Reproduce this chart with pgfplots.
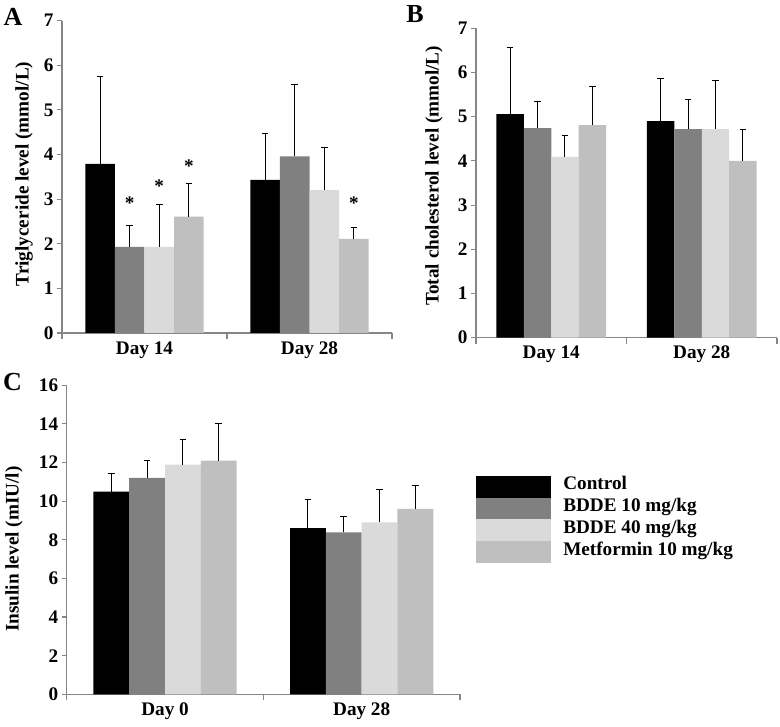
\documentclass[border=0pt]{standalone}
\usepackage{pgfplots}
\pgfplotsset{compat=1.18}
\usepackage{pgfplotstable}
\usepackage{fontspec}
\setmainfont{Liberation Serif}
\definecolor{cA}{HTML}{000000}
\definecolor{cB}{HTML}{808080}
\definecolor{cC}{HTML}{DADADA}
\definecolor{cD}{HTML}{BFBFBF}
\definecolor{axgray}{HTML}{868686}

% Panel A: Triglyceride
\pgfplotstableread{
x y e
0 3.79 1.97
1 3.43 1.04
}\TgCtrl
\pgfplotstableread{
x y e
0 1.93 0.49
1 3.96 1.60
}\TgTen
\pgfplotstableread{
x y e
0 1.93 0.95
1 3.20 0.96
}\TgForty
\pgfplotstableread{
x y e
0 2.61 0.75
1 2.11 0.25
}\TgMet
% Panel B: Total cholesterol
\pgfplotstableread{
x y e
0 5.06 1.50
1 4.90 0.97
}\TcCtrl
\pgfplotstableread{
x y e
0 4.74 0.61
1 4.72 0.66
}\TcTen
\pgfplotstableread{
x y e
0 4.09 0.49
1 4.72 1.09
}\TcForty
\pgfplotstableread{
x y e
0 4.81 0.88
1 4.00 0.72
}\TcMet
% Panel C: Insulin
\pgfplotstableread{
x y e
0 10.49 0.92
1 8.60 1.51
}\InCtrl
\pgfplotstableread{
x y e
0 11.20 0.93
1 8.39 0.84
}\InTen
\pgfplotstableread{
x y e
0 11.89 1.31
1 8.90 1.71
}\InForty
\pgfplotstableread{
x y e
0 12.10 1.93
1 9.60 1.20
}\InMet

\newcommand{\mainfs}{\fontsize{19.2}{21}\selectfont\bfseries}
\newcommand{\labfs}{\fontsize{18.8}{21}\selectfont\bfseries}

\pgfplotsset{
 panel/.style={
  scale only axis, ybar=0pt,
  axis x line*=bottom, axis y line*=left,
  axis line style={axgray, line width=1.1pt},
  xmin=-0.5, xmax=1.5, ymin=0,
  xtick={0,1}, major x tick style={draw=none},
  minor xtick={-0.5,0.5,1.5}, minor x tick style={axgray, line width=1.1pt},
  tick align=outside, major tick length=5pt, minor tick length=6pt,
  ytick style={axgray, line width=1.1pt},
  /pgf/number format/assume math mode=true,
  tick label style={font=\mainfs},
  label style={font=\labfs},
  every axis y label/.style={rotate=90, anchor=center},
  legend image code/.code={\fill[##1] (0pt,-7.7pt) rectangle (75pt,14pt);},
  error bars/y dir=plus, error bars/y explicit,
  error bars/error bar style={draw=black, line width=1pt},
  error bars/error mark options={rotate=90, draw=black, mark size=3.3pt, line width=1pt},
 },
}

\begin{document}
\begin{tikzpicture}[font=\mainfs]
\useasboundingbox (0pt,0pt) rectangle (780pt,727pt);

% ---------- A ----------
\begin{axis}[panel, at={(62pt,394pt)}, anchor=south west,
  width=330pt, height=312.3pt, ymax=7, ytick={0,...,7},
  bar width=0.179, xticklabels={Day 14, Day 28},
  ylabel={Triglyceride level (mmol/L)},
  ylabel style={at={(rel axis cs:-0.115,0.509)}}]
\addplot[fill=cA, draw=none] table[x=x, y=y, y error=e] {\TgCtrl};
\addplot[fill=cB, draw=none] table[x=x, y=y, y error=e] {\TgTen};
\addplot[fill=cC, draw=none] table[x=x, y=y, y error=e] {\TgForty};
\addplot[fill=cD, draw=none] table[x=x, y=y, y error=e] {\TgMet};
\node at (axis cs:-0.0895,2.91) {*};
\node at (axis cs:0.0895,3.30) {*};
\node at (axis cs:0.2685,3.73) {*};
\node at (axis cs:1.2685,2.91) {*};
\end{axis}

% ---------- B ----------
\begin{axis}[panel, at={(476pt,389.3pt)}, anchor=south west,
  width=301pt, height=309.4pt, ymax=7, ytick={0,...,7},
  bar width=0.182, xticklabels={Day 14, Day 28},
  ylabel={Total cholesterol level (mmol/L)},
  ylabel style={at={(rel axis cs:-0.1395,0.523)}}]
\addplot[fill=cA, draw=none] table[x=x, y=y, y error=e] {\TcCtrl};
\addplot[fill=cB, draw=none] table[x=x, y=y, y error=e] {\TcTen};
\addplot[fill=cC, draw=none] table[x=x, y=y, y error=e] {\TcForty};
\addplot[fill=cD, draw=none] table[x=x, y=y, y error=e] {\TcMet};
\end{axis}

% ---------- C ----------
\begin{axis}[panel, at={(66.7pt,32.7pt)}, anchor=south west,
  width=393.3pt, height=309pt, ymax=16, ytick={0,2,...,16},
  bar width=0.182, xticklabels={Day 0, Day 28},
  ylabel={Insulin level (mIU/l)},
  ylabel style={at={(rel axis cs:-0.134,0.4696)}},
  legend style={at={(1.0407,0.7065)}, anchor=north west, draw=none, fill=none,
    inner sep=0pt, outer sep=0pt, row sep=0pt, column sep=12.3pt,
    font=\mainfs,
    cells={anchor=base west}, nodes={inner sep=0pt}}]
\addplot[fill=cA, draw=none] table[x=x, y=y, y error=e] {\InCtrl};
\addplot[fill=cB, draw=none] table[x=x, y=y, y error=e] {\InTen};
\addplot[fill=cC, draw=none] table[x=x, y=y, y error=e] {\InForty};
\addplot[fill=cD, draw=none] table[x=x, y=y, y error=e] {\InMet};
\legend{Control, BDDE 10 mg/kg, BDDE 40 mg/kg, Metformin 10 mg/kg}
\end{axis}

\node[font=\fontsize{26}{28}\selectfont\bfseries] at (13pt,710.5pt) {A};
\node[font=\fontsize{26}{28}\selectfont\bfseries] at (415pt,713pt) {B};
\node[font=\fontsize{26}{28}\selectfont\bfseries] at (12.5pt,344.5pt) {C};
\end{tikzpicture}
\end{document}
